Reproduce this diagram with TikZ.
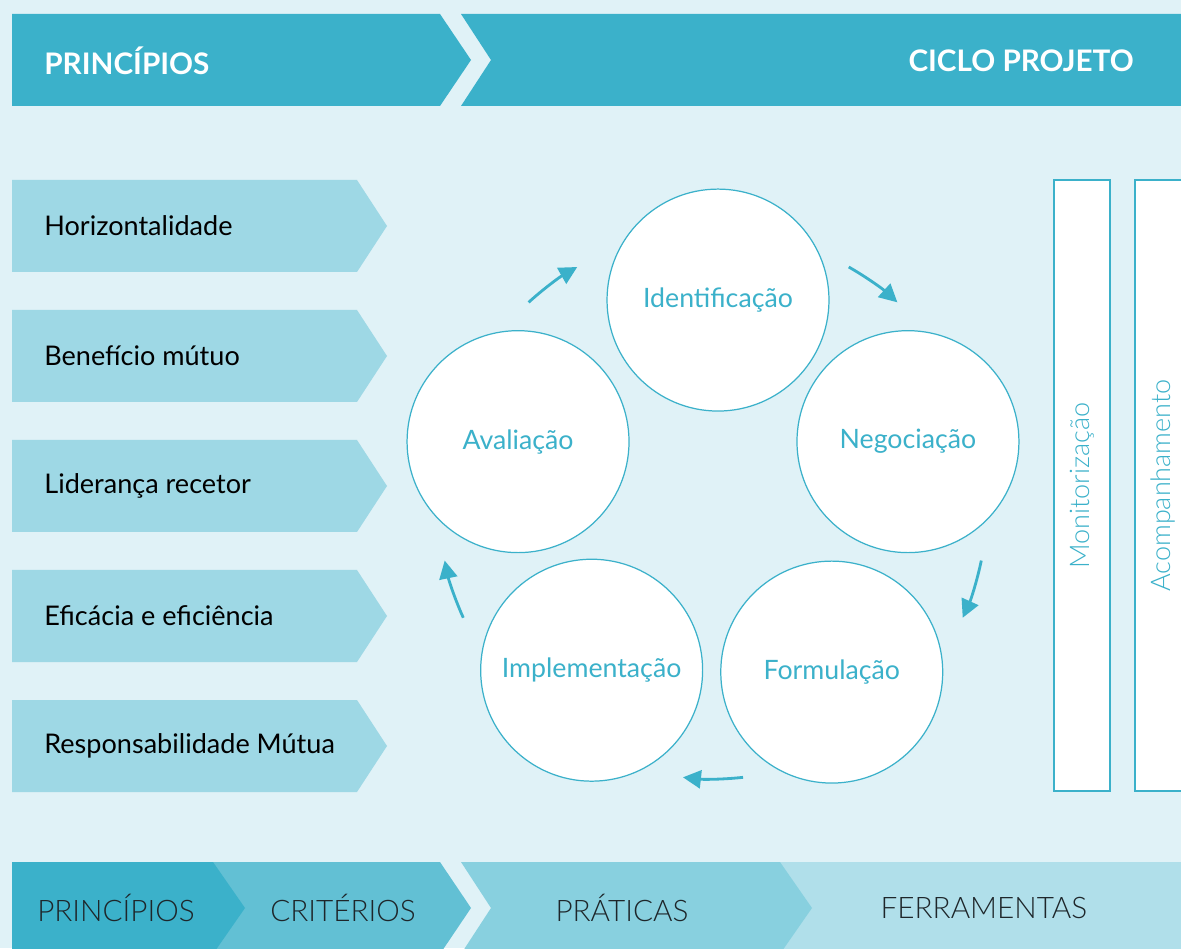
\documentclass[tikz,border=0pt]{standalone}
\usepackage{fontspec}
\setmainfont{Lato}
\newfontfamily\lightfont{Lato Light}
\usepackage{xcolor}
\usetikzlibrary{arrows.meta, positioning, calc}
\definecolor{fundo}{RGB}{224, 242, 247}
\definecolor{ciclo}{RGB}{59, 177, 202}
\definecolor{caixa}{RGB}{158, 216, 229}
\definecolor{passoa}{RGB}{59, 177, 202}
\definecolor{passob}{RGB}{98, 192, 212}
\definecolor{passoc}{RGB}{136, 208, 223}
\definecolor{passod}{RGB}{176, 223, 234}
\definecolor{escuro}{RGB}{30, 38, 42}

\begin{document}
\begin{tikzpicture}[
  x=0.02cm, y=0.02cm,
  every node/.style={inner sep=0pt},
  head/.style={text=white, font=\bfseries\fontsize{16.9}{20}\selectfont},
  prin/.style={anchor=west, text=black, font=\fontsize{15.4}{18}\selectfont},
  phase/.style={circle, draw=ciclo, fill=white, line width=0.7pt, minimum size=4.44cm, text=ciclo, font=\fontsize{15.2}{18}\selectfont},
  cyc/.style={-{Triangle[length=3.6mm, width=3.6mm]}, ciclo, line width=1.6pt},
  track/.style={draw=ciclo, fill=white, line width=0.7pt, rotate=90, minimum width=12.22cm, minimum height=1.12cm, text=ciclo, font=\lightfont\fontsize{15.4}{18}\selectfont},
  tab/.style={text=escuro, font=\lightfont\fontsize{16.9}{20}\selectfont}
]

  \useasboundingbox (0,0) rectangle (1181,948);
  \clip (0,0) rectangle (1181,948);
  \fill[fundo] (0,0) rectangle (1181,948);

  % Cabecalho
  \fill[passoa] (12,934) -- (440,934) -- (471,888) -- (440,842) -- (12,842) -- cycle;
  \fill[passoa] (461,934) -- (1190,934) -- (1190,842) -- (461,842) -- (491,888) -- cycle;
  \node[head, anchor=west] (hprin) at (44,887) {PRINCÍPIOS};
  \node[head, anchor=east] (hciclo) at (1134,887) {CICLO PROJETO};

  % Principios (cinco setas)
  \foreach \yc/\nm/\txt in {722/hor/Horizontalidade, 592/ben/Benefício mútuo, 462/lid/Liderança recetor, 332/efi/Eficácia e eficiência, 202/res/Responsabilidade Mútua} {
    \fill[caixa] (12,\yc+46) -- (357,\yc+46) -- (387,\yc) -- (357,\yc-46) -- (12,\yc-46) -- cycle;
    \node[prin] (\nm) at (44,\yc) {\txt};
  }

  % Ciclo do projeto
  \coordinate (hub) at (713,443);
  \node[phase] (ident) at ([shift={(88.6:205)}]hub) {Identificação};
  \node[phase] (negoc) at ([shift={(18:205)}]hub) {Negociação};
  \node[phase] (formu) at ([shift={(-54.6:205)}]hub) {Formulação};
  \node[phase] (imple) at ([shift={(-126.3:205)}]hub) {Implementação};
  \node[phase] (avali) at ([shift={(162:205)}]hub) {Avaliação};

  \foreach \a in {126, 54, -18, -90, -162}
    \draw[cyc] ([shift={(\a+6.3:274)}]hub) arc[start angle=\a+6.3, end angle=\a-6.3, radius=274];

  % Acompanhamento lateral
  \node[track] (monit) at (1082,462.5) {Monitorização};
  \node[track] (acomp) at (1163,462.5) {Acompanhamento};

  % Barra inferior
  \fill[passod] (700,86) rectangle (1190,-6);
  \fill[passoc] (461,86) -- (780,86) -- (812,40) -- (780,-6) -- (461,-6) -- (491,40) -- cycle;
  \fill[passob] (200,86) -- (440,86) -- (471,40) -- (440,-6) -- (200,-6) -- cycle;
  \fill[passoa] (12,86) -- (213,86) -- (245,40) -- (213,-6) -- (12,-6) -- cycle;
  \node[tab] (tprin) at (116,40) {PRINCÍPIOS};
  \node[tab] (tcrit) at (343,40) {CRITÉRIOS};
  \node[tab] (tprat) at (622,40) {PRÁTICAS};
  \node[tab] (tferr) at (984,40) {FERRAMENTAS};

\end{tikzpicture}
\end{document}
